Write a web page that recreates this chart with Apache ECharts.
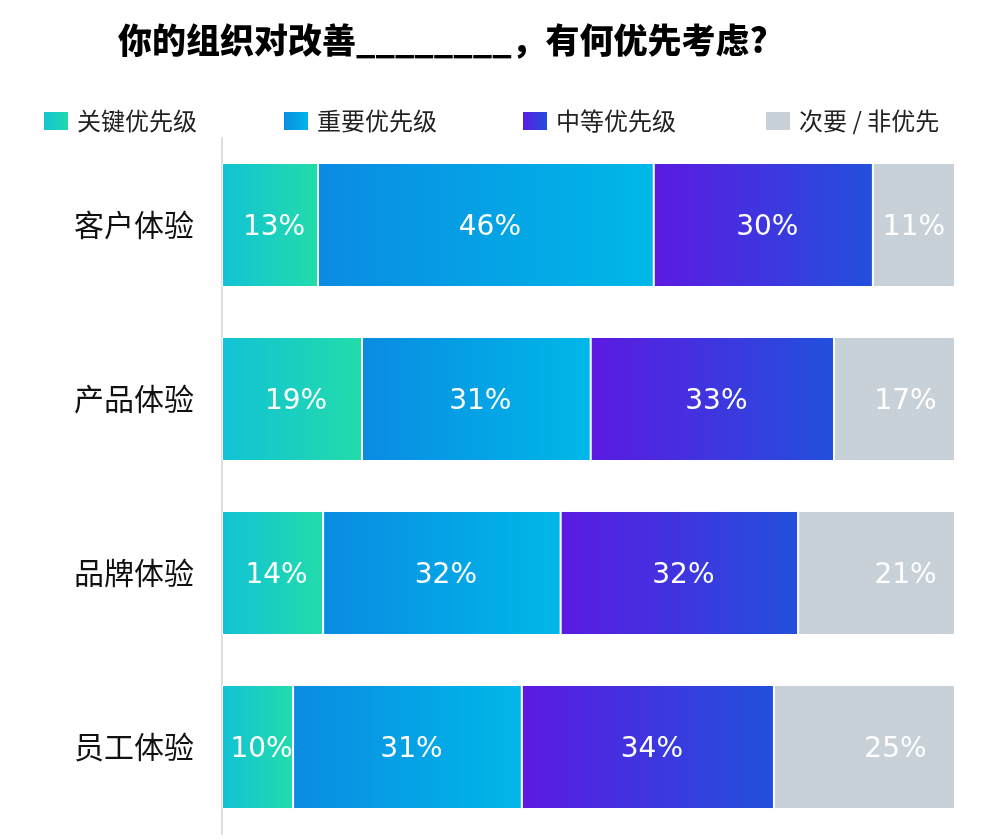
<!DOCTYPE html>
<html><head><meta charset="utf-8">
<script src="https://cdn.jsdelivr.net/npm/echarts@6/dist/echarts.min.js"></script>
<style>html,body{margin:0;padding:0;background:#fff}#c{width:1000px;height:840px}</style>
</head><body><div id="c"></div>
<script>
const titleText = '你的组织对改善________，有何优先考虑?';
const categories = ['客户体验', '产品体验', '品牌体验', '员工体验'];
const seriesNames = ['关键优先级', '重要优先级', '中等优先级', '次要 / 非优先'];
const critical = [13.1, 19.1, 13.8, 9.7];
const important = [45.8, 31.2, 32.4, 31.2];
const moderate = [29.9, 33.2, 32.4, 34.4];
const low = [11.2, 16.5, 21.4, 24.7];

const grads = [
  ['#12c2d6', '#22dcaa'],
  ['#0a8be2', '#00b8e8'],
  ['#5c1ae2', '#2250dc']
];
function g(c){ return new echarts.graphic.LinearGradient(0,0,1,0,[{offset:0,color:c[0]},{offset:1,color:c[1]}]); }
const colors = [g(grads[0]), g(grads[1]), g(grads[2]), '#c8d1d8'];
const datas = [critical, important, moderate, low];
const legendLefts = [42, 282, 521, 764];
const grayLabelShift = [-4, 7, 25, 27];

const chart = echarts.init(document.getElementById('c'));
chart.setOption({
  animation: false,
  title: { text: titleText, left: 113, top: 18,
    textStyle: { fontFamily: 'Noto Sans CJK SC', fontWeight: 900, fontSize: 34, color: '#000' } },
  legend: seriesNames.map((n, i) => ({
    left: legendLefts[i], top: 109, padding: 0, itemWidth: 26, itemHeight: 20, itemGap: 0,
    icon: 'rect', data: [n], selectedMode: false,
    textStyle: { fontFamily: 'Noto Sans CJK SC', fontSize: 24, color: '#222', padding: [0,0,0,3] }
  })),
  grid: { left: 222, right: 45, top: 138, bottom: 6 },
  xAxis: { type: 'value', min: 0, max: 100, show: false },
  yAxis: {
    type: 'category', data: categories, inverse: true,
    axisLine: { show: true, lineStyle: { color: '#dddddd', width: 2 } },
    axisTick: { show: false },
    axisLabel: { fontFamily: 'Noto Sans CJK SC', fontSize: 30, color: '#111', margin: 28 }
  },
  series: seriesNames.map((n, i) => ({
    name: n, type: 'bar', stack: 'total',
    data: datas[i].map((v, j) => i === 3
      ? { value: v, label: { offset: [4 + grayLabelShift[j], 3] } }
      : v),
    barCategoryGap: '28.7%',
    itemStyle: { color: colors[i], borderColor: '#fff', borderWidth: 1 },
    label: { show: true, position: 'inside', color: '#fff', fontFamily: 'DejaVu Sans', fontSize: 28,
      offset: [4, 3], formatter: p => Math.round(p.value) + '%' }
  }))
});
</script></body></html>
